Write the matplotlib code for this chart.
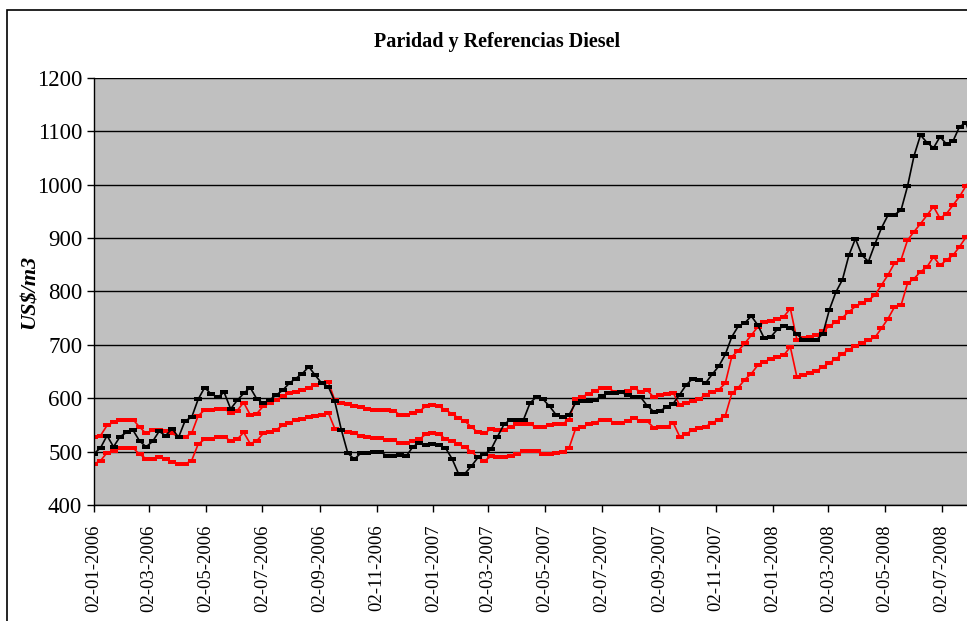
# Paridad y Referencias Diesel - weekly chart, 2006-2008

import numpy as np
import pandas as pd
import matplotlib
matplotlib.use("Agg")
import matplotlib.pyplot as plt
import matplotlib.dates as mdates
from matplotlib.patches import Rectangle

# 1. Data (US$/m3, weekly)
start_date = "2006-01-02"

paridad = [
    496, 507, 530, 509, 528, 536, 540, 520, 509, 519, 538, 530, 543, 527, 558, 564,
    598, 620, 608, 602, 611, 580, 596, 609, 620, 599, 591, 597, 606, 615, 628, 637,
    646, 659, 643, 628, 622, 594, 541, 497, 486, 497, 498, 500, 500, 492,
    492, 493, 492, 509, 517, 512, 514, 512, 507, 487, 459, 459, 473, 489, 495, 504,
    528, 551, 560, 559, 560, 591, 603, 598, 585, 569, 565, 569, 591, 595, 595, 596,
    605, 609, 609, 611, 606, 602, 602, 586, 575, 577, 583,
    590, 607, 625, 637, 634, 629, 645, 660, 682, 715, 735, 741, 754, 737, 712, 715,
    729, 735, 732, 720, 709, 709, 709, 721, 766, 799, 822, 868, 899, 868, 856, 889,
    919, 943, 944, 952, 997, 1054, 1093, 1079, 1069, 1090, 1076, 1082, 1109, 1116, 1075,
]

ref_superior = [
    528, 530, 549, 555, 560, 560, 560, 546, 534, 540, 540, 538, 534, 528, 528, 534,
    567, 578, 578, 580, 580, 573, 577, 592, 569, 571, 585, 591, 597, 604, 610, 612,
    615, 620, 625, 628, 631, 596, 592, 590, 586, 583, 580, 578, 578, 578,
    577, 569, 569, 573, 576, 585, 588, 585, 578, 571, 563, 557, 546, 536, 534, 543,
    540, 541, 546, 551, 551, 551, 546, 546, 549, 551, 552, 560, 598, 603, 608, 614,
    619, 619, 612, 612, 614, 619, 612, 615, 602, 606, 608,
    610, 587, 591, 594, 599, 606, 612, 616, 628, 678, 689, 703, 718, 734, 743, 745,
    749, 753, 768, 710, 712, 714, 718, 726, 735, 743, 751, 762, 772, 778, 784, 793,
    812, 831, 853, 859, 896, 912, 927, 943, 959, 937, 946, 962, 978, 998, 1015,
]

ref_inferior = [
    477, 483, 498, 501, 507, 507, 507, 495, 487, 487, 489, 487, 481, 477, 477, 483,
    514, 523, 523, 528, 528, 520, 523, 536, 515, 520, 534, 536, 541, 549, 554, 559,
    561, 564, 567, 569, 573, 543, 540, 536, 534, 530, 528, 525, 525, 522,
    522, 516, 516, 520, 523, 533, 535, 533, 524, 520, 514, 508, 500, 489, 483, 491,
    489, 489, 492, 495, 501, 501, 501, 495, 495, 497, 499, 507, 543, 546, 551, 554,
    560, 560, 554, 554, 557, 563, 557, 557, 545, 546, 546,
    554, 528, 533, 541, 544, 547, 554, 560, 567, 609, 620, 635, 646, 662, 668, 674,
    678, 681, 696, 640, 643, 648, 651, 659, 666, 674, 683, 691, 698, 703, 709, 714,
    731, 749, 771, 774, 815, 824, 837, 846, 865, 849, 859, 868, 884, 902, 918,
]

tick_labels = [
    "02-01-2006", "02-03-2006", "02-05-2006", "02-07-2006", "02-09-2006", "02-11-2006",
    "02-01-2007", "02-03-2007", "02-05-2007", "02-07-2007", "02-09-2007", "02-11-2007",
    "02-01-2008", "02-03-2008", "02-05-2008", "02-07-2008",
]
y_ticks = [400, 500, 600, 700, 800, 900, 1000, 1100, 1200]

dates = pd.date_range(start_date, periods=len(paridad), freq="7D")
tick_dates = pd.to_datetime(tick_labels, format="%d-%m-%Y")

# 2. Figure
plt.rcParams['font.family'] = ['Liberation Serif', 'DejaVu Serif']

fig = plt.figure(figsize=(9.67, 6.21), dpi=100)
ax = fig.add_axes([94 / 967, 1 - 505 / 621, 1 - 94 / 967, (505 - 78) / 621])
ax.set_facecolor("#C0C0C0")

# outer chart frame (right/bottom parts are off the picture)
fig.add_artist(Rectangle((7 / 967, -0.2), 1.2, 1.2 - 10 / 621, transform=fig.transFigure,
                         fill=False, edgecolor="black", linewidth=1.2))

# dash-like markers
dash = [(-1, -0.5), (1, -0.5), (1, 0.5), (-1, 0.5), (-1, -0.5)]
style = dict(linewidth=1.2, marker=dash, markersize=5.2, markeredgewidth=0)

ax.plot(dates, ref_superior, color="#FF0000", markerfacecolor="#FF0000", **style)
ax.plot(dates, ref_inferior, color="#FF0000", markerfacecolor="#FF0000", **style)
ax.plot(dates, paridad, color="black", markerfacecolor="black", **style)

# 3. Axes
ax.set_ylim(400, 1200)
ax.set_yticks(y_ticks)
ax.set_xlim(pd.Timestamp("2006-01-02"), pd.Timestamp("2008-07-29"))
ax.set_xticks(tick_dates)
ax.set_xticklabels(tick_labels, rotation=90, fontsize=13.5)
plt.setp(ax.get_yticklabels(), fontsize=16.5)
ax.tick_params(axis="both", direction="out", length=5, width=1, colors="black")
ax.tick_params(axis="x", pad=9)

ax.grid(axis="y", color="black", linewidth=1)
ax.set_axisbelow(True)
for s in ["top", "right"]:
    ax.spines[s].set_visible(False)
ax.spines["left"].set_linewidth(1)
ax.spines["bottom"].set_linewidth(1)

ax.set_ylabel("US$/m3", fontsize=16, fontweight="bold", fontstyle="italic")
ax.yaxis.set_label_coords(-(94 - 40) / 873, 0.5)

fig.text(497 / 967, 1 - 42 / 621, "Paridad y Referencias Diesel",
         ha="center", va="center", fontsize=14.5, fontweight="bold")

fig.savefig("out.png", dpi=100)
